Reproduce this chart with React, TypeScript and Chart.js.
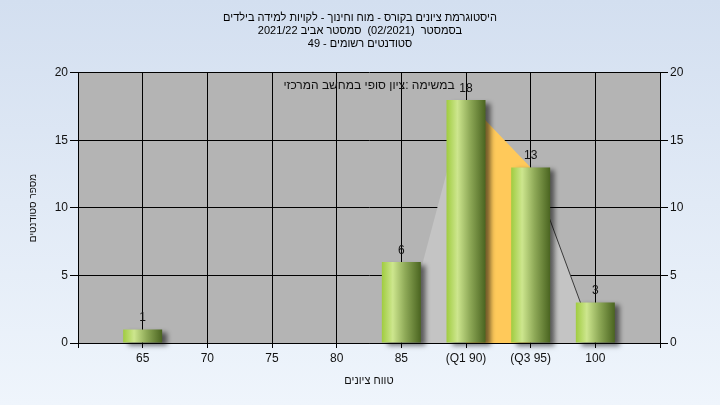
import React, { useEffect, useRef } from 'react';
import { Chart, registerables } from 'chart.js';

Chart.register(...registerables);

// ---- data ----
const categories = ['', '65', '70', '75', '80', '85', '(Q1 90)', '(Q3 95)', '100', ''];
const studentCounts = [null, 1, 0, 0, 0, 6, 18, 13, 3, null];
const rangeOutline = [null, null, null, null, null, 0, 18, 13, 0, null];
const yTickValues = [0, 5, 10, 15, 20];
const titleLines = [
  'היסטוגרמת ציונים בקורס - מוח וחינוך - לקויות למידה בילדים',
  'בסמסטר  (02/2021)  סמסטר אביב 2021/22',
  'סטודנטים רשומים - 49',
];
const innerNote = 'במשימה :ציון סופי במחשב המרכזי';
const xTitle = 'טווח ציונים';
const yTitle = 'מספר סטודנטים';

const FONT = "'Liberation Sans', Arial, sans-serif";
const TEXT = '#111111';

const backgroundPlugin = {
  id: 'bgPlugin',
  beforeDraw(chart: any) {
    const { ctx, width, height, chartArea } = chart;
    ctx.save();
    const g = ctx.createLinearGradient(0, 0, 0, height);
    g.addColorStop(0, '#d3dff0');
    g.addColorStop(1, '#eff5fc');
    ctx.fillStyle = g;
    ctx.fillRect(0, 0, width, height);
    ctx.fillStyle = '#b4b4b4';
    ctx.fillRect(chartArea.left, chartArea.top, chartArea.right - chartArea.left, chartArea.bottom - chartArea.top);
    ctx.restore();
  },
};

const shadowPlugin = {
  id: 'barShadow',
  beforeDatasetDraw(chart: any, args: any) {
    if (args.index !== 0) return;
    const c = chart.ctx;
    c.save();
    c.shadowColor = 'rgba(0,0,0,0.55)';
    c.shadowBlur = 5;
    c.shadowOffsetX = 5;
    c.shadowOffsetY = 3;
  },
  afterDatasetDraw(chart: any, args: any) {
    if (args.index !== 0) return;
    chart.ctx.restore();
  },
};

const labelPlugin = {
  id: 'barLabels',
  afterDatasetsDraw(chart: any) {
    const { ctx, chartArea } = chart;
    ctx.save();
    ctx.font = `12px ${FONT}`;
    ctx.fillStyle = TEXT;
    ctx.textAlign = 'center';
    ctx.textBaseline = 'middle';
    ctx.fillText(innerNote, (chartArea.left + chartArea.right) / 2, 86);
    const meta = chart.getDatasetMeta(0);
    ctx.textBaseline = 'alphabetic';
    meta.data.forEach((el: any, i: number) => {
      const v = studentCounts[i];
      if (v === null || v === 0) return;
      ctx.fillText(String(v), el.x, el.y - 8);
    });
    ctx.restore();
  },
};

export default function App() {
  const ref = useRef<HTMLCanvasElement>(null);
  useEffect(() => {
    document.body.style.margin = '0';
    const canvas = ref.current!;
    const chart = new Chart(canvas, {
      type: 'bar',
      data: {
        labels: categories,
        datasets: [
          {
            type: 'bar',
            data: studentCounts as any,
            order: 1,
            barThickness: 39,
            inflateAmount: 0,
            clip: false as any,
            backgroundColor: (ctx: any) => {
              const ch = ctx.chart;
              const v = studentCounts[ctx.dataIndex];
              if (!v) return 'rgba(0,0,0,0)';
              const xs = ch.scales && ch.scales.x;
              if (!xs || ctx.type !== 'data') return '#9cc83c';
              const cx = xs.getPixelForValue(ctx.dataIndex);
              if (!isFinite(cx)) return '#9cc83c';
              const g = ch.ctx.createLinearGradient(cx - 19.5, 0, cx + 19.5, 0);
              g.addColorStop(0, '#a0cc40');
              g.addColorStop(0.28, '#cde68e');
              g.addColorStop(0.6, '#8ea957');
              g.addColorStop(1, '#4a6420');
              return g;
            },
            borderWidth: 0,
          } as any,
          {
            type: 'line',
            data: rangeOutline as any,
            order: 2,
            fill: 'origin',
            tension: 0,
            pointRadius: 0,
            borderWidth: 1,
            borderColor: 'transparent',
            backgroundColor: '#c4c4c4',
            segment: {
              borderColor: (ctx: any) => (ctx.p0DataIndex === 7 ? '#3a3a3a' : 'transparent'),
              backgroundColor: (ctx: any) => (ctx.p0DataIndex === 6 ? '#ffc95a' : '#c4c4c4'),
            },
          } as any,
        ],
      },
      options: {
        responsive: false,
        animation: false,
        layout: { padding: 0 },
        plugins: {
          legend: { display: false },
          tooltip: { enabled: false },
          title: {
            display: true,
            text: titleLines,
            color: '#000',
            font: { family: FONT, size: 11, weight: 'normal', lineHeight: 1.15 },
            padding: { top: 12, bottom: 23 },
          },
        },
        scales: {
          x: {
            offset: false,
            grid: { offset: false, color: '#000', tickLength: 5, lineWidth: 1 },
            border: { color: '#000' },
            ticks: { color: TEXT, font: { family: FONT, size: 12 }, padding: 3, autoSkip: false, maxRotation: 0 },
            title: {
              display: true,
              text: xTitle,
              color: TEXT,
              font: { family: FONT, size: 11 },
              padding: { top: 0, bottom: 17 },
            },
            afterFit: (s: any) => { s.height = 62; },
          },
          y: {
            position: 'left',
            min: 0,
            max: 20,
            grid: { color: '#000', tickLength: 8 },
            border: { color: '#000' },
            ticks: { color: TEXT, font: { family: FONT, size: 12 }, padding: 2 },
            afterBuildTicks: (s: any) => { s.ticks = yTickValues.map((v) => ({ value: v })); },
            title: {
              display: true,
              text: yTitle,
              color: TEXT,
              font: { family: FONT, size: 10 },
              padding: { top: 27, bottom: 0 },
            },
            afterFit: (s: any) => { s.width = 78; },
          },
          y2: {
            position: 'right',
            min: 0,
            max: 20,
            grid: { color: '#000', tickLength: 8, drawOnChartArea: false },
            border: { color: '#000' },
            ticks: { color: TEXT, font: { family: FONT, size: 12 }, padding: 2 },
            afterBuildTicks: (s: any) => { s.ticks = yTickValues.map((v) => ({ value: v })); },
            afterFit: (s: any) => { s.width = 60; },
          },
        },
      } as any,
      plugins: [backgroundPlugin, shadowPlugin, labelPlugin],
    });
    return () => chart.destroy();
  }, []);
  return <canvas ref={ref} width={720} height={405} style={{ display: 'block' }} />;
}
